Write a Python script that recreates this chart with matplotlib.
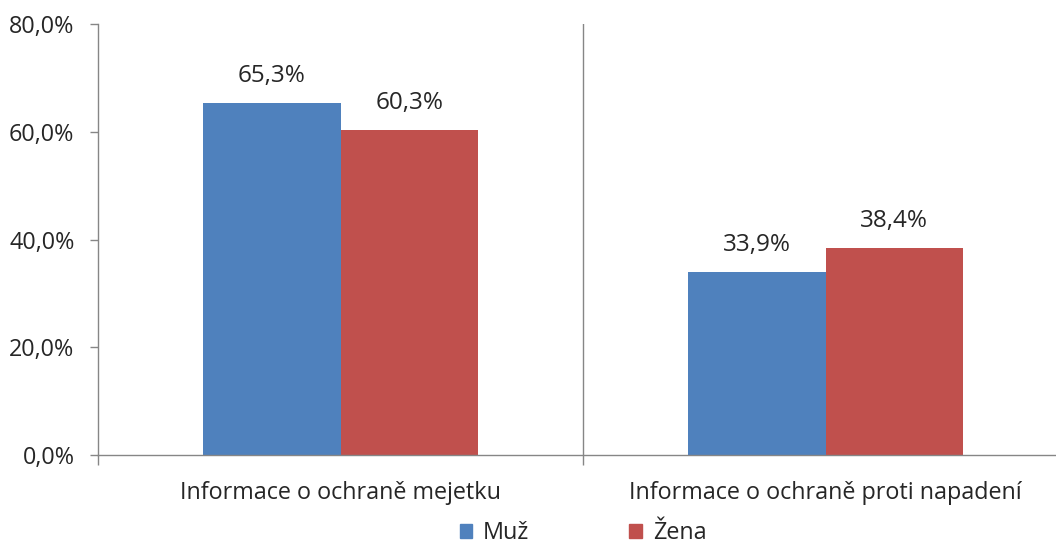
import matplotlib

matplotlib.use("Agg")
import matplotlib.pyplot as plt
import numpy as np
from matplotlib.patches import Patch

categories = ["Informace o ochraně mejetku", "Informace o ochraně proti napadení"]
series_names = ["Muž", "Žena"]
muz = [65.3, 33.9]
zena = [60.3, 38.4]
y_ticks = [0, 20, 40, 60, 80]

COLORS = {"Muž": "#4F81BD", "Žena": "#C0504D"}
AXIS_GRAY = "#868686"
TEXT = "#262626"

plt.rcParams["font.family"] = ["Open Sans", "DejaVu Sans"]

fig = plt.figure(figsize=(10.56, 5.47), dpi=100)
ax = fig.add_axes([98 / 1056, 92 / 547, 970 / 1056, 431 / 547])

x = np.arange(len(categories))
width = 0.284
fs = 16.8

for offset, name, values in ((-width / 2, "Muž", muz), (width / 2, "Žena", zena)):
    bars = ax.bar(x + offset, values, width, color=COLORS[name], label=name, zorder=2)
    for bar, v in zip(bars, values):
        ax.text(bar.get_x() + bar.get_width() / 2, v + 2.8, f"{v:.1f}%".replace(".", ","),
                ha="center", va="bottom", fontsize=17.5, color=TEXT)

ax.set_xlim(-0.5, 1.5)
ax.set_ylim(0, 80)
ax.set_yticks(y_ticks)
ax.set_yticklabels([f"{t:.1f}%".replace(".", ",") for t in y_ticks], fontsize=fs, color=TEXT)
ax.set_xticks(x)
ax.set_xticklabels(categories, fontsize=fs, color=TEXT)
ax.tick_params(axis="x", length=0, pad=19)
ax.tick_params(axis="y", length=6, width=1, color=AXIS_GRAY, pad=11)

# category boundary ticks and divider
ax.set_xticks([-0.5, 0.5, 1.5], minor=True)
ax.tick_params(axis="x", which="minor", length=7, width=1, color=AXIS_GRAY, direction="out")
ax.axvline(0.5, color=AXIS_GRAY, linewidth=1, zorder=1)

for side in ("top", "right"):
    ax.spines[side].set_visible(False)
for side in ("left", "bottom"):
    ax.spines[side].set_color(AXIS_GRAY)
    ax.spines[side].set_linewidth(1)

handles = [Patch(color=COLORS[n], label=n) for n in series_names]
fig.legend(handles=handles, loc="center", bbox_to_anchor=(583 / 1056, 1 - 533 / 547), ncol=2,
           frameon=False, fontsize=fs, handlelength=0.55, handleheight=0.55, handletextpad=0.45,
           columnspacing=4.3, labelcolor=TEXT, borderpad=0.1)

fig.savefig("out.png", dpi=100)
